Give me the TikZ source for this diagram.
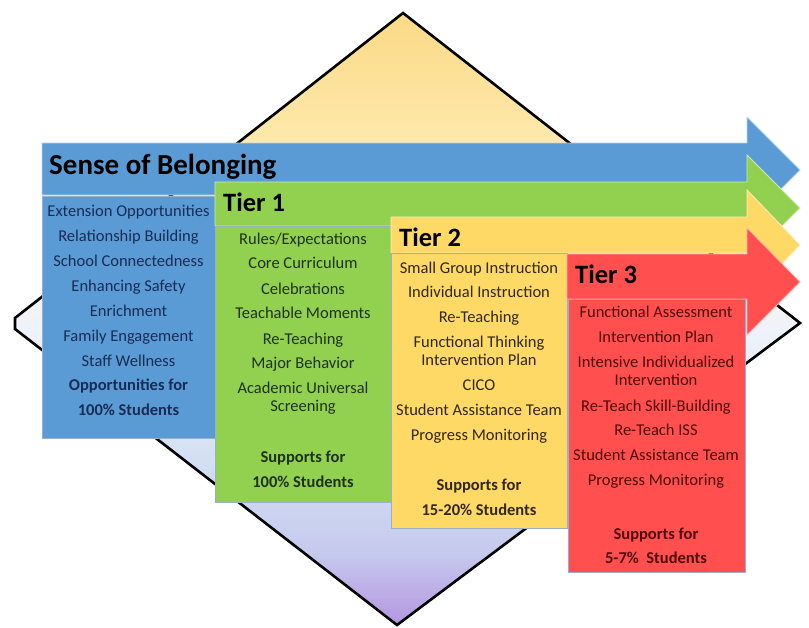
\documentclass[tikz,border=0pt]{standalone}
\usepackage{fontspec}
\setmainfont{Carlito}
\definecolor{sbBlue}{HTML}{5B9BD5}
\definecolor{sbGreen}{HTML}{92D050}
\definecolor{sbYellow}{HTML}{FFD966}
\definecolor{sbRed}{HTML}{FF4F4F}
\definecolor{txtBlue}{HTML}{182C55}
\definecolor{txtGreen}{HTML}{1F3218}
\definecolor{txtYellow}{HTML}{30281A}
\definecolor{txtRed}{HTML}{500808}
\definecolor{edgeGray}{HTML}{9AAFC8}
\definecolor{dTop}{HTML}{FBDA87}
\definecolor{dLYel}{HTML}{FDE6A6}
\definecolor{dPale}{HTML}{FFF5DC}
\definecolor{dMid}{HTML}{EEF2FA}
\definecolor{dLBlue}{HTML}{D2DEF2}
\definecolor{dLav}{HTML}{C6CAEE}
\definecolor{dBot}{HTML}{B496E0}
\pgfdeclareverticalshading{diamondshade}{100bp}{color(0bp)=(dBot); color(25bp)=(dBot); color(31bp)=(dLav); color(38bp)=(dLBlue); color(49bp)=(dMid); color(57bp)=(dPale); color(66bp)=(dLYel); color(75bp)=(dTop); color(100bp)=(dTop)}
\tikzset{
  arrowband/.style={fill=#1, draw=white!55!#1, line width=0.8pt, line join=miter},
  contentbox/.style={fill=#1, draw=edgeGray, line width=0.7pt},
  bodytext/.style={anchor=base, inner sep=0pt, font=\fontsize{16.5}{19}\selectfont},
  boldtext/.style={bodytext, font=\fontsize{16.5}{19}\selectfont\bfseries},
  titletext/.style={anchor=base west, inner sep=0pt, font=\fontsize{26.5}{30}\selectfont\bfseries, text=black},
}
\begin{document}
\begin{tikzpicture}[x=1pt,y=-1pt]
\useasboundingbox (0,0) rectangle (809,627);
% diamond
\path[shading=diamondshade] (403,13) -- (800,323) -- (397,625) -- (15,329) -- (15,318) -- cycle;
\draw[line width=2.6pt, line join=miter] (403,13) -- (800,323) -- (397,625) -- (15,329) -- (15,318) -- cycle;
% blue arrow and box
\path[arrowband=sbBlue] (42,143) -- (747,143) -- (747,117) -- (800,170) -- (747,223) -- (747,195) -- (42,195) -- cycle;
\path[contentbox=sbBlue] (42,196) rectangle (215,438);
% green arrow and box
\path[arrowband=sbGreen] (215,182) -- (747,182) -- (747,155) -- (800,208) -- (747,261) -- (747,226) -- (215,226) -- cycle;
\path[contentbox=sbGreen] (215,226) rectangle (391,502);
% yellow arrow and box
\path[arrowband=sbYellow] (391,217) -- (747,217) -- (747,190) -- (800,245) -- (747,300) -- (747,253) -- (391,253) -- cycle;
\path[contentbox=sbYellow] (391,253) rectangle (567,528);
% red arrow and box
\path[arrowband=sbRed] (567,254) -- (747,254) -- (747,228) -- (800,282) -- (747,335) -- (747,299) -- (567,299) -- cycle;
\path[contentbox=sbRed] (568,299) rectangle (745,572);
% titles
\node[titletext, font=\fontsize{29}{33}\selectfont\bfseries] (sob) at (49,174) {Sense of Belonging};
\node[titletext] (t1) at (223,211) {Tier 1};
\node[titletext] (t2) at (399,246) {Tier 2};
\node[titletext] (t3) at (575,283) {Tier 3};
% blue texts
\begin{scope}[every node/.append style={text=txtBlue}]
\node[bodytext] (b1) at (128.5,216) {Extension Opportunities};
\node[bodytext] (b2) at (128.5,241) {Relationship Building};
\node[bodytext] (b3) at (128.5,266) {School Connectedness};
\node[bodytext] (b4) at (128.5,291) {Enhancing Safety};
\node[bodytext] (b5) at (128.5,316) {Enrichment};
\node[bodytext] (b6) at (128.5,341) {Family Engagement};
\node[bodytext] (b7) at (128.5,366) {Staff Wellness};
\node[boldtext] (b8) at (128.5,390) {Opportunities for};
\node[boldtext] (b9) at (128.5,415) {100\% Students};
\end{scope}
% green texts
\begin{scope}[every node/.append style={text=txtGreen}]
\node[bodytext] (g1) at (303,244) {Rules/Expectations};
\node[bodytext] (g2) at (303,268) {Core Curriculum};
\node[bodytext] (g3) at (303,294) {Celebrations};
\node[bodytext] (g4) at (303,318) {Teachable Moments};
\node[bodytext] (g5) at (303,344) {Re-Teaching};
\node[bodytext] (g6) at (303,368) {Major Behavior};
\node[bodytext] (g7) at (303,393) {Academic Universal};
\node[bodytext] (g8) at (303,411) {Screening};
\node[boldtext] (g9) at (303,462) {Supports for};
\node[boldtext] (g10) at (303,487) {100\% Students};
\end{scope}
% yellow texts
\begin{scope}[every node/.append style={text=txtYellow}]
\node[bodytext] (y1) at (479,273) {Small Group Instruction};
\node[bodytext] (y2) at (479,297) {Individual Instruction};
\node[bodytext] (y3) at (479,322) {Re-Teaching};
\node[bodytext] (y4) at (479,347) {Functional Thinking};
\node[bodytext] (y5) at (479,365) {Intervention Plan};
\node[bodytext] (y6) at (479,390) {CICO};
\node[bodytext] (y7) at (479,415) {Student Assistance Team};
\node[bodytext] (y8) at (479,440) {Progress Monitoring};
\node[boldtext] (y9) at (479,490) {Supports for};
\node[boldtext] (y10) at (479,515) {15-20\% Students};
\end{scope}
% red texts
\begin{scope}[every node/.append style={text=txtRed}]
\node[bodytext] (r1) at (656,317) {Functional Assessment};
\node[bodytext] (r2) at (656,342) {Intervention Plan};
\node[bodytext] (r3) at (656,367) {Intensive Individualized};
\node[bodytext] (r4) at (656,385) {Intervention};
\node[bodytext] (r5) at (656,411) {Re-Teach Skill-Building};
\node[bodytext] (r6) at (656,435) {Re-Teach ISS};
\node[bodytext] (r7) at (656,460) {Student Assistance Team};
\node[bodytext] (r8) at (656,485) {Progress Monitoring};
\node[boldtext] (r9) at (656,539) {Supports for};
\node[boldtext] (r10) at (656,563) {5-7\%\ \ Students};
\end{scope}
\end{tikzpicture}
\end{document}
